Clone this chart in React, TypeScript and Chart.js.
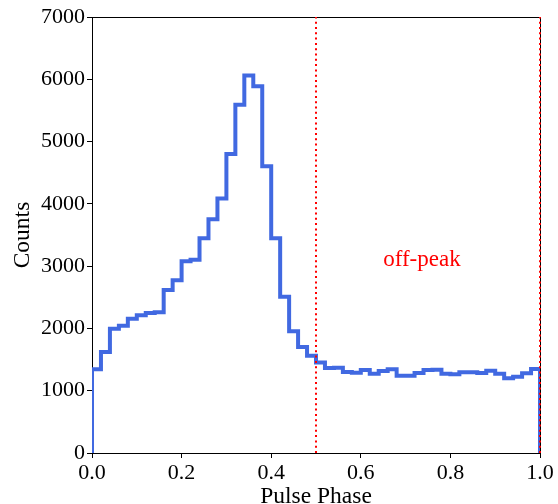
import React, { useEffect, useRef } from "react";
import { Chart, registerables } from "chart.js";

Chart.register(...registerables);

const binEdges: number[] = Array.from({ length: 50 }, (_, i) => +(i * 0.02).toFixed(2));
const counts: number[] = [
  1343, 1621, 1995, 2044, 2156, 2210, 2247, 2258, 2616, 2772,
  3077, 3103, 3446, 3751, 4088, 4799, 5591, 6062, 5890, 4602,
  3446, 2509, 1953, 1701, 1560, 1452, 1364, 1369, 1300, 1289,
  1332, 1273, 1316, 1343, 1241, 1241, 1284, 1332, 1337, 1273,
  1263, 1295, 1295, 1284, 1321, 1273, 1199, 1225, 1279, 1348,
];
const offPeakLines: number[] = [0.5, 1.0];
const yTicks: number[] = [0, 1000, 2000, 3000, 4000, 5000, 6000, 7000];
const xTicks: number[] = [0, 0.2, 0.4, 0.6, 0.8, 1.0];
const annotationText = "off-peak";
const annotationPos = { x: 0.65, y: 3000 };
const xTitle = "Pulse Phase";
const yTitle = "Counts";

const FONT = "'Liberation Serif', 'Times New Roman', serif";

export default function App() {
  const ref = useRef<HTMLCanvasElement>(null);
  useEffect(() => {
    if (!ref.current) return;
    const stepData: { x: number; y: number }[] = [{ x: 0, y: 0 }];
    binEdges.forEach((e, i) => stepData.push({ x: e, y: counts[i] }));
    stepData.push({ x: 1, y: counts[counts.length - 1] });
    stepData.push({ x: 1, y: 0 });

    const vlineSets = offPeakLines.map((v) => ({
      data: [
        { x: v, y: 0 },
        { x: v, y: 7000 },
      ],
      borderColor: "#ff0000",
      borderWidth: 2,
      borderDash: [2, 3.3],
      pointRadius: 0,
      fill: false,
      clip: false as any,
      order: 0,
    }));

    const framePlugin = {
      id: "frame",
      beforeDatasetsDraw(chart: any) {
        const { ctx, chartArea } = chart;
        ctx.save();
        ctx.strokeStyle = "#000";
        ctx.lineWidth = 1;
        ctx.strokeRect(
          Math.round(chartArea.left) + 0.5,
          Math.round(chartArea.top) + 0.5,
          Math.round(chartArea.right - chartArea.left),
          Math.round(chartArea.bottom - chartArea.top)
        );
        ctx.restore();
      },
      afterDatasetsDraw(chart: any) {
        const { ctx, scales, chartArea } = chart;
        ctx.save();
        ctx.fillStyle = "#ff0000";
        ctx.font = `23px ${FONT}`;
        ctx.textAlign = "left";
        ctx.textBaseline = "alphabetic";
        ctx.fillText(
          annotationText,
          scales.x.getPixelForValue(annotationPos.x),
          scales.y.getPixelForValue(annotationPos.y)
        );
        ctx.fillStyle = "#000";
        ctx.font = `23.5px ${FONT}`;
        ctx.textAlign = "center";
        ctx.fillText(xTitle, (chartArea.left + chartArea.right) / 2, 503);
        ctx.translate(29, (chartArea.top + chartArea.bottom) / 2);
        ctx.rotate(-Math.PI / 2);
        ctx.fillText(yTitle, 0, 0);
        ctx.restore();
      },
    };

    const chart = new Chart(ref.current, {
      type: "line",
      data: {
        datasets: [
          {
            data: stepData,
            stepped: "before",
            borderColor: "#4169e1",
            borderWidth: 4,
            pointRadius: 0,
            fill: false,
            order: 1,
          } as any,
          ...vlineSets,
        ],
      },
      options: {
        animation: false,
        responsive: false,
        maintainAspectRatio: false,
        layout: { padding: { top: 17, right: 18, left: 0, bottom: 0 } },
        plugins: { legend: { display: false }, tooltip: { enabled: false } },
        scales: {
          x: {
            type: "linear",
            min: 0,
            max: 1,
            afterFit(scale: any) {
              scale.height = 51;
            },
            afterBuildTicks(scale: any) {
              scale.ticks = xTicks.map((v) => ({ value: v }));
            },
            ticks: {
              color: "#000",
              font: { family: FONT, size: 22 },
              padding: 2,
              maxRotation: 0,
              callback: (v: any) => Number(v).toFixed(1),
            },
            grid: {
              drawOnChartArea: false,
              drawTicks: true,
              tickLength: 5,
              tickColor: "#000",
            },
            border: { display: true, color: "#000", width: 1 },
          },
          y: {
            type: "linear",
            min: 0,
            max: 7000,
            afterFit(scale: any) {
              scale.width = 92;
            },
            afterBuildTicks(scale: any) {
              scale.ticks = yTicks.map((v) => ({ value: v }));
            },
            ticks: {
              color: "#000",
              font: { family: FONT, size: 22 },
              padding: 2,
              callback: (v: any) => String(v),
            },
            grid: {
              drawOnChartArea: false,
              drawTicks: true,
              tickLength: 5,
              tickColor: "#000",
            },
            border: { display: true, color: "#000", width: 1 },
          },
        },
      },
      plugins: [framePlugin],
    });
    return () => chart.destroy();
  }, []);

  return (
    <div style={{ position: "fixed", left: 0, top: 0, width: 558, height: 504, background: "#fff" }}>
      <canvas ref={ref} width={558} height={504} style={{ display: "block" }} />
    </div>
  );
}
